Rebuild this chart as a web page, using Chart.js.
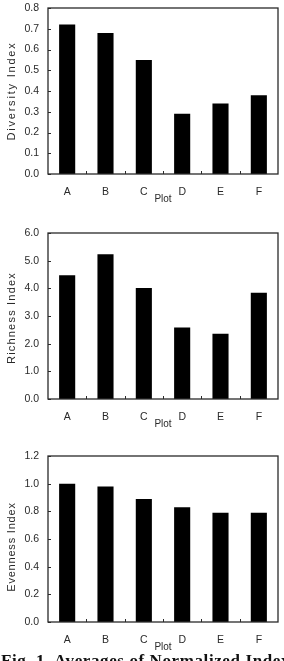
<!DOCTYPE html>
<html>
<head>
<meta charset="utf-8">
<script src="https://cdn.jsdelivr.net/npm/chart.js@4"></script>
<style>
  body { margin:0; background:#fff; width:284px; height:661px; overflow:hidden; position:relative; }
  canvas { position:absolute; left:0; }
  #cap { position:absolute; left:1px; top:651px; font-family:"Liberation Serif", serif; font-weight:bold; font-size:17px; letter-spacing:0.6px; color:#111; white-space:nowrap; }
</style>
</head>
<body>
<canvas id="c1" width="284" height="208" style="top:0px"></canvas>
<canvas id="c2" width="284" height="208" style="top:225px"></canvas>
<canvas id="c3" width="284" height="208" style="top:448px"></canvas>
<div id="cap">Fig. 1. Averages of Normalized Index</div>
<script>
var plots = ['A', 'B', 'C', 'D', 'E', 'F'];

var diversity = [0.72, 0.68, 0.55, 0.29, 0.34, 0.38];
var richness  = [4.47, 5.23, 4.01, 2.58, 2.36, 3.84];
var evenness  = [1.00, 0.98, 0.89, 0.83, 0.79, 0.79];

var diversityTicks = { max: 0.8, step: 0.1 };
var richnessTicks  = { max: 6.0, step: 1.0 };
var evennessTicks  = { max: 1.2, step: 0.2 };

var FONT = '"Liberation Sans", Arial, sans-serif';
var INK = '#2a2a2a';

// frame, inward ticks and spaced y title
var framePlugin = {
  id: 'frame',
  afterDraw: function(chart) {
    var ctx = chart.ctx;
    var a = chart.chartArea;
    var xs = chart.scales.x;
    var ys = chart.scales.y;
    ctx.save();
    ctx.strokeStyle = INK;
    ctx.lineWidth = 1.3;
    ctx.strokeRect(a.left, a.top, a.right - a.left, a.bottom - a.top);

    ctx.lineWidth = 1;
    ctx.beginPath();
    for (var i = 0; i < ys.ticks.length; i++) {
      var py = Math.round(ys.getPixelForValue(ys.ticks[i].value)) + 0.5;
      ctx.moveTo(a.left, py);
      ctx.lineTo(a.left + 3, py);
    }
    for (var j = 1; j < plots.length; j++) {
      var px = Math.round(xs.getPixelForValue(j - 0.5)) + 0.5;
      ctx.moveTo(px, a.bottom);
      ctx.lineTo(px, a.bottom - 3);
    }
    ctx.stroke();

    var t = chart.options.yTitle;
    ctx.fillStyle = INK;
    ctx.font = '11px ' + FONT;
    ctx.letterSpacing = t.spacing + 'px';
    ctx.textAlign = 'center';
    ctx.textBaseline = 'middle';
    ctx.translate(12, (a.top + a.bottom) / 2 + t.shift);
    ctx.rotate(-Math.PI / 2);
    ctx.fillText(t.text, 0, 0);
    ctx.restore();
  }
};

function makeChart(id, values, tk, title, spacing, shift) {
  var cfg = {
    type: 'bar',
    plugins: [framePlugin],
    data: {
      labels: plots,
      datasets: [{
        data: values,
        backgroundColor: '#000',
        borderWidth: 0,
        barPercentage: 0.42,
        categoryPercentage: 1.0
      }]
    },
    options: {
      responsive: false,
      animation: false,
      yTitle: { text: title, spacing: spacing, shift: shift },
      layout: { padding: { top: 8, right: 6, bottom: 0, left: 0 } },
      plugins: {
        legend: { display: false },
        tooltip: { enabled: false }
      },
      scales: {
        x: {
          grid: { display: false, drawTicks: false },
          border: { display: false },
          ticks: { color: INK, padding: 12, font: { family: FONT, size: 10.5 } },
          title: { display: true, text: 'Plot', color: INK, padding: { top: 0, bottom: 3 }, font: { family: FONT, size: 10 } },
          afterFit: function(s) { s.height = 34; s.paddingLeft = 0; s.paddingRight = 0; }
        },
        y: {
          min: 0,
          max: tk.max,
          grid: { display: false, drawTicks: false },
          border: { display: false },
          ticks: {
            stepSize: tk.step,
            color: INK,
            padding: 9,
            font: { family: FONT, size: 10.5 },
            callback: function(v) { return Number(v).toFixed(1); }
          },
          afterFit: function(s) { s.width = 48; s.paddingTop = 0; s.paddingBottom = 0; }
        }
      }
    }
  };
  return new Chart(document.getElementById(id).getContext('2d'), cfg);
}

var chart1 = makeChart('c1', diversity, diversityTicks, 'Diversity Index', 1.8, 0);
var chart2 = makeChart('c2', richness, richnessTicks, 'Richness Index', 1.2, 2);
var chart3 = makeChart('c3', evenness, evennessTicks, 'Evenness Index', 0.8, 8);
</script>
</body>
</html>
